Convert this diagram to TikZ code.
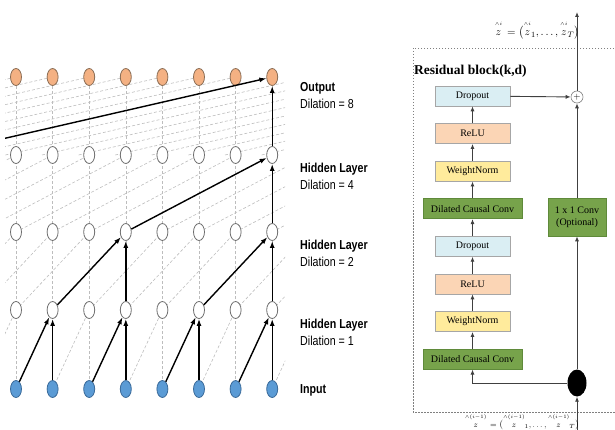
\documentclass[tikz,border=0pt]{standalone}
\usepackage{amsmath}
\usepackage{fontspec}
\usepackage{xcolor}
\usepackage{tikz}
\usetikzlibrary{
  arrows.meta,
  positioning,
  shapes.geometric
}

\newfontfamily\labfont[FakeStretch=0.82]{Liberation Sans}
\newfontfamily\blockfont{Liberation Serif}

\newcommand{\hatz}[1]{\overset{\scriptscriptstyle\wedge #1}{\rule{0pt}{1.7ex}z}}

\definecolor{outfill}{HTML}{F4B183}
\definecolor{outline}{HTML}{8A6D55}
\definecolor{hidline}{HTML}{6E6E6E}
\definecolor{infill}{HTML}{5B9BD5}
\definecolor{inline}{HTML}{3A6A99}
\definecolor{dropfill}{HTML}{DAEEF3}
\definecolor{relufill}{HTML}{FBD5B5}
\definecolor{wnfill}{HTML}{FFEB9C}
\definecolor{convfill}{HTML}{77A34B}
\definecolor{convline}{HTML}{5F8A3A}
\definecolor{boxline}{HTML}{A6A6A6}
\definecolor{gridgrey}{HTML}{BDBDBD}

\begin{document}
\begin{tikzpicture}[x=1pt, y=-1pt,
    every node/.style={inner sep=0pt},
    unit/.style={ellipse, line width=0.8pt, minimum width=11pt, minimum height=17pt},
    outunit/.style={unit, draw=outline, fill=outfill},
    hidunit/.style={unit, draw=hidline, fill=white},
    inunit/.style={unit, draw=inline, fill=infill},
    grid/.style={draw=gridgrey, line width=0.6pt, dash pattern=on 3pt off 2pt},
    arr/.style={draw=black, line width=1.4pt, -{Latex[length=7pt,width=5pt]}},
    sarr/.style={draw=black!75, line width=0.9pt, -{Latex[length=5pt,width=4pt]}},
    lab/.style={anchor=west, align=left, font=\labfont\fontsize{13}{17}\selectfont},
    blk/.style={rectangle, draw=boxline, line width=0.6pt, minimum width=75pt, minimum height=20pt,
      font=\blockfont\fontsize{10}{12}\selectfont},
    convbox/.style={fill=convfill, draw=convline, minimum width=99pt}]
\useasboundingbox (0,0) rectangle (615,430);
\clip (0,0) rectangle (615,430);

% grid points of the dilated stack
\foreach \r/\y in {0/389, 1/310, 2/232, 3/155, 4/77} {
  \foreach \j in {-12,...,16} {
    \coordinate (g\r-\j) at ({16+36.6*\j},\y);
  }
}

% all connections, dashed
\begin{scope}
\clip (5,60) rectangle (285,400);
\foreach \j in {-12,...,16}
  \draw[grid] (g0-\j) -- (g4-\j);
\foreach \j in {-11,...,16} {
  \pgfmathtruncatemacro\p{\j-1}
  \draw[grid] (g0-\p) -- (g1-\j);
}
\foreach \j in {-10,...,16} {
  \pgfmathtruncatemacro\p{\j-2}
  \draw[grid] (g1-\p) -- (g2-\j);
}
\foreach \j in {-8,...,16} {
  \pgfmathtruncatemacro\p{\j-4}
  \draw[grid] (g2-\p) -- (g3-\j);
}
\foreach \j in {-4,...,16}
  \draw[grid] ([xshift=-340pt]g3-\j) -- (g4-\j);
\end{scope}

% units
\foreach \j in {0,...,7} {
  \node[inunit] (in\j) at (g0-\j) {};
  \node[hidunit] (hA\j) at (g1-\j) {};
  \node[hidunit] (hB\j) at (g2-\j) {};
  \node[hidunit] (hC\j) at (g3-\j) {};
  \node[outunit] (out\j) at (g4-\j) {};
}

% receptive field of the last output
\foreach \j in {1,3,5,7} {
  \pgfmathtruncatemacro\p{\j-1}
  \draw[arr] (in\p) -- (hA\j);
  \draw[arr] (in\j) -- (hA\j);
}
\draw[arr] (hA1) -- (hB3);
\draw[arr] (hA3) -- (hB3);
\draw[arr] (hA5) -- (hB7);
\draw[arr] (hA7) -- (hB7);
\draw[arr] (hB3) -- (hC7);
\draw[arr] (hB7) -- (hC7);
\draw[arr] (hC7) -- (out7);
\begin{scope}
\clip (5,0) rectangle (300,430);
\coordinate (far7) at ([xshift=-340pt]g3-7);
\draw[arr] (far7) -- (out7);
\end{scope}

% layer labels
\node[lab] (lOut) at (300,96) {\bfseries Output\\Dilation = 8};
\node[lab] (lHC) at (300,176) {\bfseries Hidden Layer\\Dilation = 4};
\node[lab] (lHB) at (300,253) {\bfseries Hidden Layer\\Dilation = 2};
\node[lab] (lHA) at (300,332) {\bfseries Hidden Layer\\Dilation = 1};
\node[lab] (lIn) at (300,390) {\bfseries Input};

% residual block
\draw[draw=gray, line width=0.5pt, dash pattern=on 1.5pt off 1.5pt] (413,48) rectangle (640,412);
\node[anchor=west, font=\blockfont\bfseries\fontsize{13.5}{15}\selectfont] (title) at (414,71) {Residual block(k,d)};

\node[blk, fill=dropfill] (dropA) at (472.5,96) {Dropout};
\node[blk, fill=relufill, below=17pt of dropA] (reluA) {ReLU};
\node[blk, fill=wnfill, below=17pt of reluA] (wnA) {WeightNorm};
\node[blk, convbox, below=17pt of wnA] (dccA) {Dilated Causal Conv};
\node[blk, fill=dropfill, below=17pt of dccA] (dropB) {Dropout};
\node[blk, fill=relufill, below=17pt of dropB] (reluB) {ReLU};
\node[blk, fill=wnfill, below=17pt of reluB] (wnB) {WeightNorm};
\node[blk, convbox, below=17pt of wnB] (dccB) {Dilated Causal Conv};

\node[blk, convbox, minimum width=58pt, minimum height=38pt, align=center] (conv11) at (577,217) {1 x 1 Conv\\(Optional)};
\node[ellipse, fill=black, minimum width=19pt, minimum height=27pt] (blob) at (577,383) {};
\node[circle, draw=gray, fill=white, line width=0.6pt, minimum size=12pt, font=\small] (plus) at (577,97) {$+$};
\coordinate (resin) at (577,440);
\coordinate (resout) at (577,12);

\draw[sarr] (dccB) -- (wnB);
\draw[sarr] (wnB) -- (reluB);
\draw[sarr] (reluB) -- (dropB);
\draw[sarr] (dropB) -- (dccA);
\draw[sarr] (dccA) -- (wnA);
\draw[sarr] (wnA) -- (reluA);
\draw[sarr] (reluA) -- (dropA);
\draw[sarr] (dropA) -- (plus);
\draw[sarr] (resin) -- (blob);
\draw[sarr] (blob) -- (conv11);
\draw[sarr] (conv11) -- (plus);
\draw[sarr] (plus) -- (resout);
\draw[sarr] (blob.west) -| (dccB.south);

% block output and input sequences
\node[font=\fontsize{11}{13}\selectfont] (zout) at (537,30)
  {$\hatz{i}\,=\bigl(\hatz{i}_{1},\ldots,\hatz{i}_{T}\bigr)$};
\node[font=\fontsize{8.5}{10}\selectfont, anchor=north] (zin) at (522,414)
  {$\hatz{(i-1)}\,=\bigl(\hatz{(i-1)}_{1},\ldots,\hatz{(i-1)}_{T}\bigr)$};
\end{tikzpicture}
\end{document}
